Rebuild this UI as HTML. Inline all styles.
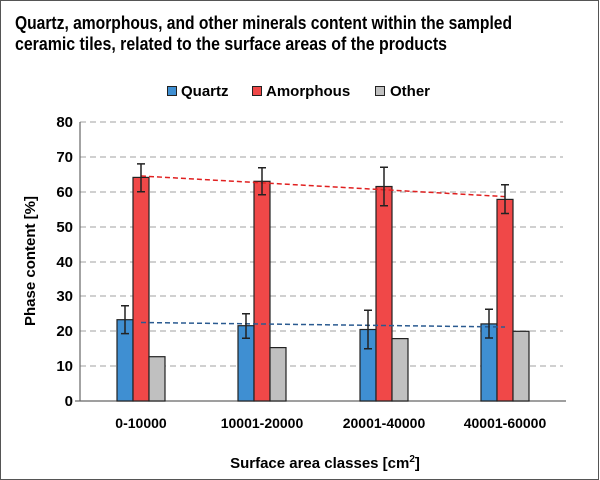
<!DOCTYPE html>
<html><head><meta charset="utf-8"><style>body{margin:0;background:#fff}svg{display:block}text{font-family:"Liberation Sans",Arial,sans-serif;font-weight:bold;fill:#000}</style></head><body>
<svg width="600" height="480" viewBox="0 0 600 480" xmlns="http://www.w3.org/2000/svg">
<rect x="0.5" y="0.5" width="598" height="479" fill="#fff" stroke="#555" stroke-width="1"/>
<text x="15" y="29" font-size="18" textLength="497" lengthAdjust="spacingAndGlyphs">Quartz, amorphous, and other minerals content within the sampled</text>
<text x="15" y="50" font-size="18" textLength="432" lengthAdjust="spacingAndGlyphs">ceramic tiles, related to the surface areas of the products</text>
<g stroke="#222" stroke-width="1">
<rect x="167.5" y="86.5" width="9" height="9" fill="#3f8fd2"/>
<rect x="252.5" y="86.5" width="9" height="9" fill="#f04848"/>
<rect x="375.5" y="86.5" width="9" height="9" fill="#c0c0c0"/>
</g>
<text x="181" y="96" font-size="15">Quartz</text>
<text x="266" y="96" font-size="15">Amorphous</text>
<text x="390" y="96" font-size="15">Other</text>
<g stroke="#b5b5b5" stroke-width="1.3" stroke-dasharray="6,4">
<line x1="80" y1="122" x2="563" y2="122"/><line x1="80" y1="157" x2="563" y2="157"/><line x1="80" y1="192" x2="563" y2="192"/><line x1="80" y1="227" x2="563" y2="227"/><line x1="80" y1="262" x2="563" y2="262"/><line x1="80" y1="296" x2="563" y2="296"/><line x1="80" y1="331" x2="563" y2="331"/><line x1="80" y1="366" x2="563" y2="366"/>
</g>
<g stroke="#666" stroke-width="1.2"><line x1="80" y1="122" x2="80" y2="401"/><line x1="80" y1="401" x2="566" y2="401"/><line x1="75" y1="401" x2="80" y2="401"/></g>
<g font-size="15" text-anchor="end">
<text x="73" y="127">80</text><text x="73" y="162">70</text><text x="73" y="197">60</text><text x="73" y="232">50</text><text x="73" y="267">40</text><text x="73" y="301">30</text><text x="73" y="336">20</text><text x="73" y="371">10</text><text x="73" y="406">0</text>
</g>
<g stroke="#222" stroke-width="1.2">
<rect x="117" y="319.7" width="16" height="81.3" fill="#3f8fd2"/>
<rect x="133" y="177.4" width="16" height="223.6" fill="#f04848"/>
<rect x="149" y="356.7" width="16" height="44.3" fill="#c0c0c0"/>
<rect x="238" y="325.7" width="16" height="75.3" fill="#3f8fd2"/>
<rect x="254" y="181.3" width="16" height="219.7" fill="#f04848"/>
<rect x="270" y="347.6" width="16" height="53.4" fill="#c0c0c0"/>
<rect x="360" y="329.5" width="16" height="71.5" fill="#3f8fd2"/>
<rect x="376" y="186.5" width="16" height="214.5" fill="#f04848"/>
<rect x="392" y="338.6" width="16" height="62.4" fill="#c0c0c0"/>
<rect x="481" y="323.9" width="16" height="77.1" fill="#3f8fd2"/>
<rect x="497" y="199.4" width="16" height="201.6" fill="#f04848"/>
<rect x="513" y="331.3" width="16" height="69.7" fill="#c0c0c0"/>
</g>
<line x1="141" y1="176" x2="505" y2="196.6" stroke="#e02020" stroke-width="1.5" stroke-dasharray="5,3"/>
<line x1="141" y1="322.5" x2="505" y2="327" stroke="#2a5a90" stroke-width="1.5" stroke-dasharray="5,3"/>
<g stroke="#222" stroke-width="1.5">
<path d="M125 305.8V333.6M121 305.8H129M121 333.6H129"/>
<path d="M141 163.9V191.8M137 163.9H145M137 191.8H145"/>
<path d="M246 313.8V338.2M242 313.8H250M242 338.2H250"/>
<path d="M262 167.8V194.7M258 167.8H266M258 194.7H266"/>
<path d="M368 310.3V348.7M364 310.3H372M364 348.7H372"/>
<path d="M384 167.2V205.7M380 167.2H388M380 205.7H388"/>
<path d="M489 309.3V338M485 309.3H493M485 338H493"/>
<path d="M505 184.8V213.5M501 184.8H509M501 213.5H509"/>
</g>
<g font-size="14" text-anchor="middle">
<text x="141" y="428">0-10000</text><text x="262" y="428">10001-20000</text><text x="384" y="428">20001-40000</text><text x="505" y="428">40001-60000</text>
</g>
<text x="325" y="468" font-size="15" text-anchor="middle">Surface area classes [cm<tspan font-size="10" dy="-6">2</tspan><tspan dy="6">]</tspan></text>
<text transform="translate(35,261) rotate(-90)" font-size="15" text-anchor="middle">Phase content [%]</text>
</svg>
</body></html>
